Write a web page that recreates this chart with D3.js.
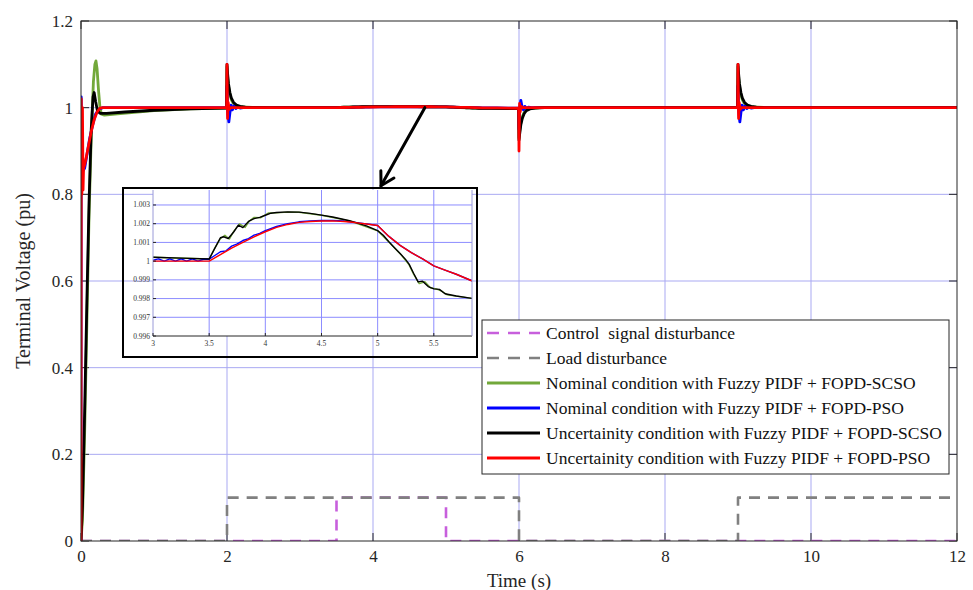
<!DOCTYPE html>
<html>
<head>
<meta charset="utf-8">
<script src="https://cdn.jsdelivr.net/npm/d3@7"></script>
<style>
  html, body { margin: 0; padding: 0; background: #fff; }
  svg { display: block; font-family: "Liberation Serif", "DejaVu Serif", serif; }
</style>
</head>
<body>
<svg id="chart" width="973" height="590"></svg>
<script>
// ---- Data: terminal voltage responses, [time (s), voltage (pu)] ----
const nominalSCSO = [
  [0,0],[0.02,0.05],[0.05,0.25],[0.08,0.5],[0.11,0.75],[0.14,0.93],[0.17,1.06],[0.19,1.1],[0.205,1.108],
  [0.22,1.09],[0.24,1.04],[0.26,1.0],[0.28,0.985],[0.32,0.983],[0.5,0.986],[1.0,0.993],[1.5,0.997],[1.995,0.999],
  [2.0,1.095],[2.01,1.068],[2.02,1.05],[2.04,1.03],[2.06,1.018],[2.09,1.009],[2.13,1.004],[2.2,1.0015],[2.35,1.0004],[2.6,1.0003],
  [3.0,1.00021],[3.5,1.00011],[3.55,1.0007],[3.6,1.0012],[3.64,1.00138],[3.68,1.00118],[3.72,1.0016],[3.77,1.00199],
  [3.82,1.0018],[3.86,1.00215],[3.9,1.00234],[3.96,1.00232],[4.03,1.00258],[4.1,1.00258],[4.2,1.00262],[4.3,1.00261],
  [4.5,1.00245],[4.75,1.00215],[5.0,1.00162],[5.1,1.00102],[5.2,1.0004],[5.28,0.9998],[5.32,0.9993],[5.37,0.9988],
  [5.42,0.9989],[5.47,0.99858],[5.52,0.99852],[5.57,0.9984],[5.62,0.9982],[5.7,0.99813],[5.85,0.998],[5.995,0.9978],
  [6.0,0.93],[6.01,0.947],[6.025,0.965],[6.045,0.979],[6.07,0.989],[6.1,0.995],[6.15,0.998],[6.3,1.0],
  [8.995,1.0],[9.0,1.095],[9.01,1.068],[9.02,1.05],[9.04,1.03],[9.06,1.018],[9.09,1.009],[9.13,1.004],[9.2,1.0015],[9.35,1.0004],[12,1.0]
];
const nominalPSO = [
  [0,0],[0.003,1.025],[0.008,0.97],[0.015,0.9],[0.03,0.855],[0.05,0.86],[0.08,0.89],[0.12,0.93],[0.16,0.96],
  [0.2,0.985],[0.25,0.997],[0.3,1.0],[1.995,1.0],
  [2.0,1.05],[2.01,0.99],[2.025,0.967],[2.04,0.988],[2.055,1.006],[2.075,0.995],[2.095,1.004],[2.12,0.998],[2.15,1.002],[2.18,0.999],[2.22,1.0],
  [3.0,1.00005],[3.05,1.00012],[3.1,1.0],[3.15,1.00012],[3.2,1.0],[3.25,1.00012],[3.3,1.0],[3.35,1.00012],[3.4,1.0],
  [3.45,1.0001],[3.5,1.0001],[3.55,1.0003],[3.6,1.0005],[3.65,1.00055],[3.7,1.0008],[3.75,1.00092],[3.8,1.0011],
  [3.85,1.0012],[3.9,1.00139],[3.95,1.00148],[4.0,1.00163],[4.1,1.00185],[4.2,1.002],[4.3,1.0021],[4.4,1.00215],
  [4.5,1.00217],[4.6,1.00217],[4.7,1.00214],[4.8,1.00207],[4.9,1.00199],[5.0,1.0019],[5.1,1.00132],[5.2,1.00084],
  [5.3,1.00045],[5.4,1.00012],[5.5,0.99975],[5.6,0.99952],[5.7,0.9993],[5.85,0.99892],[5.995,0.9987],
  [6.0,0.95],[6.01,1.0],[6.025,1.017],[6.04,1.004],[6.06,0.995],[6.08,1.003],[6.1,0.998],[6.13,1.001],[6.17,1.0],
  [8.995,1.0],[9.0,1.05],[9.01,0.99],[9.025,0.967],[9.04,0.988],[9.055,1.006],[9.075,0.995],[9.095,1.004],[9.12,0.998],
  [9.15,1.002],[9.18,0.999],[9.22,1.0],[12,1.0]
];
const uncertainSCSO = [
  [0,0],[0.02,0.08],[0.05,0.3],[0.08,0.55],[0.11,0.78],[0.14,0.95],[0.165,1.025],[0.18,1.035],[0.2,1.015],
  [0.225,0.993],[0.26,0.987],[0.35,0.987],[0.6,0.99],[1.0,0.994],[1.5,0.997],[1.995,0.999],
  [2.0,1.1],[2.01,1.075],[2.02,1.056],[2.04,1.035],[2.06,1.022],[2.09,1.012],[2.13,1.006],[2.18,1.003],[2.25,1.0012],[2.35,1.0005],[2.6,1.0003],
  [3.0,1.00021],[3.25,1.00016],[3.5,1.00011],[3.55,1.00068],[3.6,1.00125],[3.63,1.0013],[3.67,1.00121],[3.72,1.00157],
  [3.76,1.00192],[3.8,1.00179],[3.85,1.00212],[3.9,1.00227],[3.95,1.00234],[4.0,1.00245],[4.05,1.00256],[4.1,1.0026],
  [4.2,1.00263],[4.3,1.00262],[4.4,1.00255],[4.5,1.00246],[4.6,1.00236],[4.75,1.00216],[4.9,1.00188],[5.0,1.00163],
  [5.05,1.00138],[5.1,1.00104],[5.15,1.00072],[5.2,1.00041],[5.25,1.00008],[5.28,0.99984],[5.32,0.99935],[5.36,0.99889],
  [5.4,0.99893],[5.45,0.99864],[5.5,0.99852],[5.55,0.99849],[5.6,0.99826],[5.7,0.99814],[5.85,0.998],[5.995,0.9978],
  [6.0,0.925],[6.01,0.94],[6.025,0.96],[6.045,0.975],[6.07,0.986],[6.1,0.993],[6.15,0.997],[6.22,0.999],[6.35,1.0],
  [8.995,1.0],[9.0,1.1],[9.01,1.075],[9.02,1.056],[9.04,1.035],[9.06,1.022],[9.09,1.012],[9.13,1.006],[9.18,1.003],
  [9.25,1.0012],[9.35,1.0004],[12,1.0]
];
const uncertainPSO = [
  [0,0],[0.004,1.02],[0.012,0.80],[0.02,1.0],[0.028,0.81],[0.035,0.86],[0.06,0.875],[0.1,0.91],[0.14,0.945],
  [0.18,0.972],[0.22,0.99],[0.26,0.999],[0.3,1.0],[1.995,1.0],
  [2.0,1.1],[2.008,0.975],[2.016,1.012],[2.03,0.996],[2.05,1.0],
  [3.5,1.0],[3.6,1.00035],[3.7,1.0007],[3.8,1.001],[3.9,1.0013],[4.0,1.00157],[4.1,1.0018],[4.2,1.00196],[4.3,1.00207],
  [4.4,1.00212],[4.5,1.00214],[4.6,1.00215],[4.7,1.00212],[4.8,1.00206],[4.9,1.00198],[5.0,1.0019],[5.1,1.00132],
  [5.2,1.00084],[5.3,1.00045],[5.4,1.00012],[5.5,0.99975],[5.6,0.99952],[5.7,0.9993],[5.85,0.99892],[5.995,0.9987],
  [6.0,0.9],[6.008,1.01],[6.016,0.99],[6.03,1.003],[6.05,1.0],
  [8.995,1.0],[9.0,1.1],[9.008,0.975],[9.016,1.012],[9.03,0.996],[9.05,1.0],[12,1.0]
];
// Disturbance profiles (step signals)
const controlDisturbance = [[0,0],[3.5,0],[3.5,0.1],[5,0.1],[5,0],[12,0]];
const loadDisturbance = [[0,0],[2,0],[2,0.1],[6,0.1],[6,0],[9,0],[9,0.1],[12,0.1]];

// Axis ticks
const xTicks = [0,2,4,6,8,10,12];
const yTicks = [0,0.2,0.4,0.6,0.8,1,1.2];
const insetXTicks = [3,3.5,4,4.5,5,5.5];
const insetYTicks = [0.996,0.997,0.998,0.999,1,1.001,1.002,1.003];

// Legend entries and styles
const seriesNames = [
  "Control  signal disturbance",
  "Load disturbance",
  "Nominal condition with Fuzzy PIDF + FOPD-SCSO",
  "Nominal condition with Fuzzy PIDF + FOPD-PSO",
  "Uncertainity condition with Fuzzy PIDF + FOPD-SCSO",
  "Uncertainity condition with Fuzzy PIDF + FOPD-PSO"
];
const series = [
  { name: seriesNames[0], data: controlDisturbance, color: "#c75fdc", dash: "11,8", w: 2.6 },
  { name: seriesNames[1], data: loadDisturbance,    color: "#808080", dash: "11,8", w: 2.6 },
  { name: seriesNames[2], data: nominalSCSO,        color: "#72a83a", dash: null,   w: 2.8 },
  { name: seriesNames[3], data: nominalPSO,         color: "#0000ff", dash: null,   w: 2.8 },
  { name: seriesNames[4], data: uncertainSCSO,      color: "#000000", dash: null,   w: 2.8 },
  { name: seriesNames[5], data: uncertainPSO,       color: "#ff0000", dash: null,   w: 2.8 }
];
// Arrow annotation pointing from the main trace to the zoomed view (data units)
const arrowFrom = [4.71, 1.0];
const arrowTo = [4.11, 0.82];

// ---- Layout ----
const svg = d3.select("#chart");
const plot = { left: 81, top: 21, right: 957, bottom: 541 };
const x = d3.scaleLinear().domain([0, 12]).range([plot.left, plot.right]);
const y = d3.scaleLinear().domain([0, 1.2]).range([plot.bottom, plot.top]);
const fmt = v => String(+v.toFixed(3));

svg.append("defs").append("clipPath").attr("id", "mainClip")
  .append("rect").attr("x", plot.left).attr("y", plot.top)
  .attr("width", plot.right - plot.left).attr("height", plot.bottom - plot.top);

// Grid
const grid = svg.append("g").attr("stroke", "#a9a9f2").attr("stroke-width", 1);
xTicks.slice(1, -1).forEach(t => grid.append("line")
  .attr("x1", x(t)).attr("x2", x(t)).attr("y1", plot.top).attr("y2", plot.bottom));
yTicks.slice(1, -1).forEach(t => grid.append("line")
  .attr("x1", plot.left).attr("x2", plot.right).attr("y1", y(t)).attr("y2", y(t)));

// Axes (ticks inward on all four sides)
const tickLen = 8;
const axBottom = d3.axisBottom(x).tickValues(xTicks).tickSize(0).tickPadding(7).tickFormat(fmt);
const axLeft = d3.axisLeft(y).tickValues(yTicks).tickSize(0).tickPadding(8).tickFormat(fmt);
const gx = svg.append("g").attr("transform", `translate(0,${plot.bottom})`).call(axBottom);
const gy = svg.append("g").attr("transform", `translate(${plot.left},0)`).call(axLeft);
[gx, gy].forEach(g => {
  g.select(".domain").remove();
  g.selectAll("text").attr("font-family", "Liberation Serif, serif").attr("font-size", 17).attr("fill", "#262626");
});
gx.selectAll("text").attr("dy", "0.8em");
const ticksG = svg.append("g").attr("stroke", "#262626").attr("stroke-width", 1);
xTicks.forEach(t => {
  ticksG.append("line").attr("x1", x(t)).attr("x2", x(t)).attr("y1", plot.bottom).attr("y2", plot.bottom - tickLen);
  ticksG.append("line").attr("x1", x(t)).attr("x2", x(t)).attr("y1", plot.top).attr("y2", plot.top + tickLen);
});
yTicks.forEach(t => {
  ticksG.append("line").attr("x1", plot.left).attr("x2", plot.left + tickLen).attr("y1", y(t)).attr("y2", y(t));
  ticksG.append("line").attr("x1", plot.right).attr("x2", plot.right - tickLen).attr("y1", y(t)).attr("y2", y(t));
});

// Axis titles
svg.append("text").attr("x", (plot.left + plot.right) / 2).attr("y", 587)
  .attr("text-anchor", "middle").attr("font-size", 19).attr("fill", "#262626").text("Time (s)");
svg.append("text").attr("transform", `translate(30,${(plot.top + plot.bottom) / 2}) rotate(-90)`)
  .attr("text-anchor", "middle").attr("font-size", 20).attr("fill", "#262626").text("Terminal Voltage (pu)");

// Traces
const line = d3.line().x(d => x(d[0])).y(d => y(d[1]));
const traces = svg.append("g").attr("clip-path", "url(#mainClip)");
series.forEach(s => {
  traces.append("path").datum(s.data).attr("d", line)
    .attr("fill", "none").attr("stroke", s.color).attr("stroke-width", s.w)
    .attr("stroke-dasharray", s.dash).attr("stroke-linejoin", "round");
});

// Frame
svg.append("rect").attr("x", plot.left).attr("y", plot.top)
  .attr("width", plot.right - plot.left).attr("height", plot.bottom - plot.top)
  .attr("fill", "none").attr("stroke", "#262626").attr("stroke-width", 1);

// ---- Zoomed inset ----
const box = { left: 123, top: 188, right: 477, bottom: 357 };
const ip = { left: 153, top: 190, right: 472, bottom: 336 };
const ix = d3.scaleLinear().domain([3, 5.84]).range([ip.left, ip.right]);
const iy = d3.scaleLinear().domain([0.996, 1.0038]).range([ip.bottom, ip.top]);

svg.select("defs").append("clipPath").attr("id", "insetClip")
  .append("rect").attr("x", ip.left).attr("y", ip.top)
  .attr("width", ip.right - ip.left).attr("height", ip.bottom - ip.top);

const inset = svg.append("g");
inset.append("rect").attr("x", ip.left).attr("y", ip.top)
  .attr("width", ip.right - ip.left).attr("height", ip.bottom - ip.top).attr("fill", "#fff");
const igrid = inset.append("g").attr("stroke", "#8c8cff").attr("stroke-width", 1);
insetXTicks.slice(1).forEach(t => igrid.append("line")
  .attr("x1", ix(t)).attr("x2", ix(t)).attr("y1", ip.top).attr("y2", ip.bottom));
insetYTicks.slice(1).forEach(t => igrid.append("line")
  .attr("x1", ip.left).attr("x2", ip.right).attr("y1", iy(t)).attr("y2", iy(t)));

const iline = d3.line().x(d => ix(d[0])).y(d => iy(d[1]));
const itraces = inset.append("g").attr("clip-path", "url(#insetClip)");
series.slice(2).forEach(s => {
  itraces.append("path").datum(s.data).attr("d", iline)
    .attr("fill", "none").attr("stroke", s.color).attr("stroke-width", 1.4).attr("stroke-linejoin", "round");
});

const iax = inset.append("g").attr("stroke", "#262626").attr("stroke-width", 1);
iax.append("line").attr("x1", ip.left).attr("x2", ip.left).attr("y1", ip.top).attr("y2", ip.bottom).attr("stroke", "#9a9ad8");
iax.append("line").attr("x1", ip.left).attr("x2", ip.right).attr("y1", ip.bottom).attr("y2", ip.bottom);
iax.append("line").attr("x1", ip.right).attr("x2", ip.right).attr("y1", ip.top).attr("y2", ip.bottom).attr("stroke", "#9a9ad8");
insetXTicks.forEach(t => iax.append("line").attr("x1", ix(t)).attr("x2", ix(t)).attr("y1", ip.bottom).attr("y2", ip.bottom - 3));
insetYTicks.forEach(t => iax.append("line").attr("x1", ip.left).attr("x2", ip.left + 3).attr("y1", iy(t)).attr("y2", iy(t)));

inset.append("g").selectAll("text").data(insetXTicks).join("text")
  .attr("x", d => ix(d)).attr("y", ip.bottom + 10).attr("text-anchor", "middle")
  .attr("font-size", 7.5).attr("fill", "#333").text(fmt);
inset.append("g").selectAll("text").data(insetYTicks).join("text")
  .attr("x", ip.left - 3).attr("y", d => iy(d) + 2.5).attr("text-anchor", "end")
  .attr("font-size", 7.5).attr("fill", "#333").text(fmt);

inset.append("rect").attr("x", box.left).attr("y", box.top)
  .attr("width", box.right - box.left).attr("height", box.bottom - box.top)
  .attr("fill", "none").attr("stroke", "#000").attr("stroke-width", 2);

// Arrow
const ax0 = x(arrowFrom[0]), ay0 = y(arrowFrom[1]), ax1 = x(arrowTo[0]), ay1 = y(arrowTo[1]);
const ang = Math.atan2(ay1 - ay0, ax1 - ax0), headLen = 15, spread = Math.PI / 6;
const arrow = svg.append("g").attr("stroke", "#000").attr("stroke-width", 3).attr("fill", "none").attr("stroke-linecap", "round");
arrow.append("line").attr("x1", ax0).attr("y1", ay0).attr("x2", ax1).attr("y2", ay1);
arrow.append("path").attr("d", `M${ax1 - headLen * Math.cos(ang - spread)},${ay1 - headLen * Math.sin(ang - spread)}L${ax1},${ay1}L${ax1 - headLen * Math.cos(ang + spread)},${ay1 - headLen * Math.sin(ang + spread)}`);

// ---- Legend ----
const lg = { left: 482, top: 320, right: 949, bottom: 474, row0: 333, rowGap: 25 };
const legend = svg.append("g");
legend.append("rect").attr("x", lg.left).attr("y", lg.top)
  .attr("width", lg.right - lg.left).attr("height", lg.bottom - lg.top)
  .attr("fill", "#fff").attr("stroke", "#262626").attr("stroke-width", 1);
series.forEach((s, i) => {
  const yy = lg.row0 + i * lg.rowGap;
  legend.append("line").attr("x1", 487).attr("x2", 540).attr("y1", yy).attr("y2", yy)
    .attr("stroke", s.color).attr("stroke-width", s.w).attr("stroke-dasharray", s.dash ? "12,9" : null);
  legend.append("text").attr("x", 546).attr("y", yy + 5.5).attr("font-size", 17.5)
    .attr("fill", "#111").attr("xml:space", "preserve").style("white-space", "pre").text(s.name);
});
</script>
</body>
</html>
